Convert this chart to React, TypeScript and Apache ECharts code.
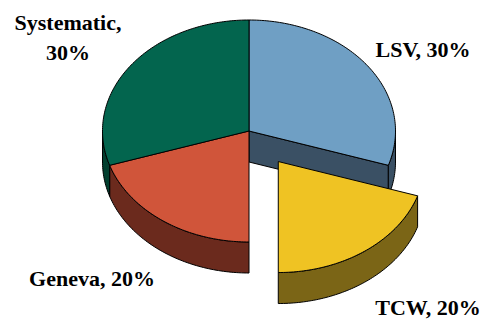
import React, { useEffect, useRef } from 'react';
import * as echarts from 'echarts';

const names = ['LSV', 'TCW', 'Geneva', 'Systematic'];
const values = [30, 20, 20, 30];
const exploded = [false, true, false, false];
const topColors = ['#6f9fc4', '#efc323', '#d0553a', '#03654e'];
const sideColors = ['#3a5064', '#7b6516', '#6b2a1d', '#023f2f'];

export default function App() {
  const ref = useRef<HTMLDivElement>(null);
  useEffect(() => {
    document.body.style.margin = '0';
    const chart = echarts.init(ref.current!, null, { renderer: 'svg' });
    const cx = 249, cy = 131, rx = 146.5, ry = 111, depth = 31, K = 0.34;
    const total = values.reduce((a, b) => a + b, 0);
    let acc = 0;
    const spans = values.map((v) => {
      const a0 = (acc / total) * 360;
      acc += v;
      return [a0, (acc / total) * 360];
    });
    const offs = spans.map(([a0, a1], i) => {
      if (!exploded[i]) return [0, 0];
      const m = ((a0 + a1) / 2) * Math.PI / 180;
      return [K * rx * Math.sin(m), -K * ry * Math.cos(m)];
    });
    const pt = (t: number, o: number[], dz: number) => {
      const r = (t * Math.PI) / 180;
      return [cx + o[0] + rx * Math.sin(r), cy + o[1] - ry * Math.cos(r) + dz];
    };
    const arc = (a0: number, a1: number, o: number[], dz: number) => {
      const n = Math.max(2, Math.ceil(Math.abs(a1 - a0)));
      const pts: number[][] = [];
      for (let k = 0; k <= n; k++) pts.push(pt(a0 + ((a1 - a0) * k) / n, o, dz));
      return pts;
    };
    const lineStyle = { stroke: '#000', lineWidth: 1, lineJoin: 'round' };
    const n = values.length;

    const renderSides = (params: any) => {
      const i = params.dataIndex;
      const [a0, a1] = spans[i];
      const o = offs[i];
      const c = [cx + o[0], cy + o[1]];
      const children: any[] = [];
      const gapStart = exploded[i] || exploded[(i - 1 + n) % n];
      const gapEnd = exploded[i] || exploded[(i + 1) % n];
      const face = (a: number) => {
        const p = pt(a, o, 0);
        return {
          type: 'polygon',
          shape: { points: [c, p, [p[0], p[1] + depth], [c[0], c[1] + depth]] },
          style: { fill: sideColors[i], ...lineStyle },
        };
      };
      if (gapEnd && Math.sin((a1 * Math.PI) / 180) > 0.01) children.push(face(a1));
      if (gapStart && Math.sin((a0 * Math.PI) / 180) < -0.01) children.push(face(a0));
      const s = Math.max(a0, 90), e = Math.min(a1, 270);
      if (s < e) {
        const top = arc(s, e, o, 0);
        const bot = arc(e, s, o, depth);
        children.push({
          type: 'polygon',
          shape: { points: top.concat(bot) },
          style: { fill: sideColors[i], ...lineStyle },
        });
      }
      return { type: 'group', children };
    };

    const renderTops = (params: any) => {
      const i = params.dataIndex;
      const [a0, a1] = spans[i];
      const o = offs[i];
      const c = [cx + o[0], cy + o[1]];
      return {
        type: 'polygon',
        shape: { points: [c].concat(arc(a0, a1, o, 0)) },
        style: { fill: topColors[i], ...lineStyle },
      };
    };

    const labelText = names.map((nm, i) =>
      nm === 'Systematic' ? `${nm},\n${values[i]}%` : `${nm}, ${values[i]}%`
    );
    const labelPos = [
      [423, 49],
      [428, 307],
      [92, 278],
      [68, 37],
    ];
    const data = values.map((v, i) => ({ name: names[i], value: v }));

    chart.setOption({
      animation: false,
      series: [
        { type: 'custom', coordinateSystem: 'none', silent: true, z: 1, data, renderItem: renderSides },
        { type: 'custom', coordinateSystem: 'none', silent: true, z: 2, data, renderItem: renderTops },
      ],
      graphic: labelText.map((t, i) => ({
        type: 'text',
        x: labelPos[i][0],
        y: labelPos[i][1],
        z: 10,
        style: {
          text: t,
          fill: '#000',
          fontFamily: 'Liberation Serif',
          fontWeight: 'bold',
          fontSize: 22,
          align: 'center',
          verticalAlign: 'middle',
          lineHeight: 30,
        },
      })),
    });
    return () => chart.dispose();
  }, []);
  return <div ref={ref} style={{ width: 489, height: 319 }} />;
}
